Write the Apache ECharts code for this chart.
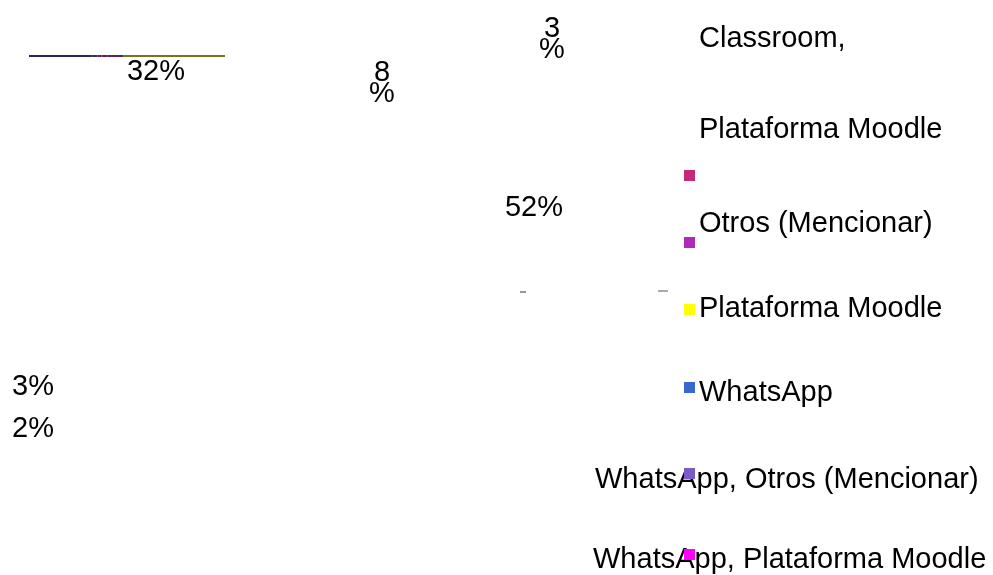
<!DOCTYPE html>
<html lang="es">

<head>
    <meta charset="UTF-8">
    <script src="https://cdn.jsdelivr.net/npm/echarts@6/dist/echarts.min.js"></script>
    <style>
        html, body {
            margin: 0;
            padding: 0;
            background-color: #ffffff;
        }
    </style>
</head>

<body>
    <div id="main" style="width: 993px;height:575px;"></div>
    <script type="text/javascript">
        // categorias y porcentajes
        const categories = ['Classroom, Plataforma Moodle', 'Otros (Mencionar)', 'Plataforma Moodle',
            'WhatsApp', 'WhatsApp, Otros (Mencionar)', 'WhatsApp, Plataforma Moodle'];
        const percents = [3, 8, 52, 32, 3, 2];
        // colores de la leyenda y del borde del pastel aplastado
        const legendColors = ['#C8287A', '#B02AB8', '#FFFF00', '#3A66D0', '#7B5BC8', '#FF00FF'];
        const edgeColors = ['#6A2046', '#5E1F5E', '#77741A', '#2B2364', '#3E2A6A', '#6A1F5A'];
        // orden de las porciones a lo largo de la linea
        const stackOrder = [3, 4, 5, 0, 1, 2];

        // posiciones de las etiquetas (centro x, centro y) y si se parten en dos lineas
        const labelPos = [[552, 39, true], [382, 83, true], [534, 208, false],
            [156, 72, false], [33, 387, false], [33, 429, false]];
        // marcadores de leyenda (arriba) y textos de leyenda (x izquierda, y centro)
        const markerTop = [170, 237, 304, 382, 468, 549];
        const legendTextPos = [[699, 84], [699, 224], [699, 309], [699, 393], [595, 480], [593, 560]];

        const font = '"Liberation Sans", Arial, sans-serif';
        var myChart = echarts.init(document.getElementById('main'));

        const series = stackOrder.map(i => ({
            name: categories[i],
            type: 'bar',
            stack: 'pastel',
            barWidth: 2,
            itemStyle: { color: edgeColors[i] },
            data: [percents[i]],
            label: {
                show: true,
                formatter: labelPos[i][2] ? percents[i] + '\n%' : percents[i] + '%',
                fontFamily: font,
                fontSize: 29,
                lineHeight: labelPos[i][2] ? 21 : 33,
                color: '#000000'
            },
            labelLayout: function () {
                return { x: labelPos[i][0], y: labelPos[i][1], align: 'center', verticalAlign: 'middle' };
            }
        }));

        const legends = categories.map((name, i) => ({
            data: [{ name: name, itemStyle: { color: legendColors[i] } }],
            left: 684,
            top: markerTop[i],
            padding: 0,
            icon: 'rect',
            itemWidth: 11,
            itemHeight: 11,
            selectedMode: false,
            formatter: () => '',
            textStyle: { fontSize: 6 }
        }));

        const texts = categories.map((name, i) => ({
            type: 'text',
            left: legendTextPos[i][0],
            top: legendTextPos[i][1] - (i === 0 ? 91 : 16),
            style: {
                text: i === 0 ? name.replace(', ', ',\n') : name,
                font: '29px ' + font,
                lineHeight: i === 0 ? 91 : 32,
                fill: '#000000'
            }
        }));
        // restos de lineas guia
        texts.push({ type: 'line', shape: { x1: 520, y1: 292, x2: 526, y2: 292 }, style: { stroke: '#333', lineWidth: 1 } });
        texts.push({ type: 'line', shape: { x1: 658, y1: 291, x2: 668, y2: 291 }, style: { stroke: '#555', lineWidth: 1 } });

        myChart.setOption({
            animation: false,
            grid: { left: 29, top: 55, width: 196, height: 2 },
            xAxis: { type: 'value', min: 0, max: 100, show: false },
            yAxis: { type: 'category', data: ['pastel'], show: false },
            legend: legends,
            graphic: texts,
            series: series
        });
    </script>
</body>

</html>
